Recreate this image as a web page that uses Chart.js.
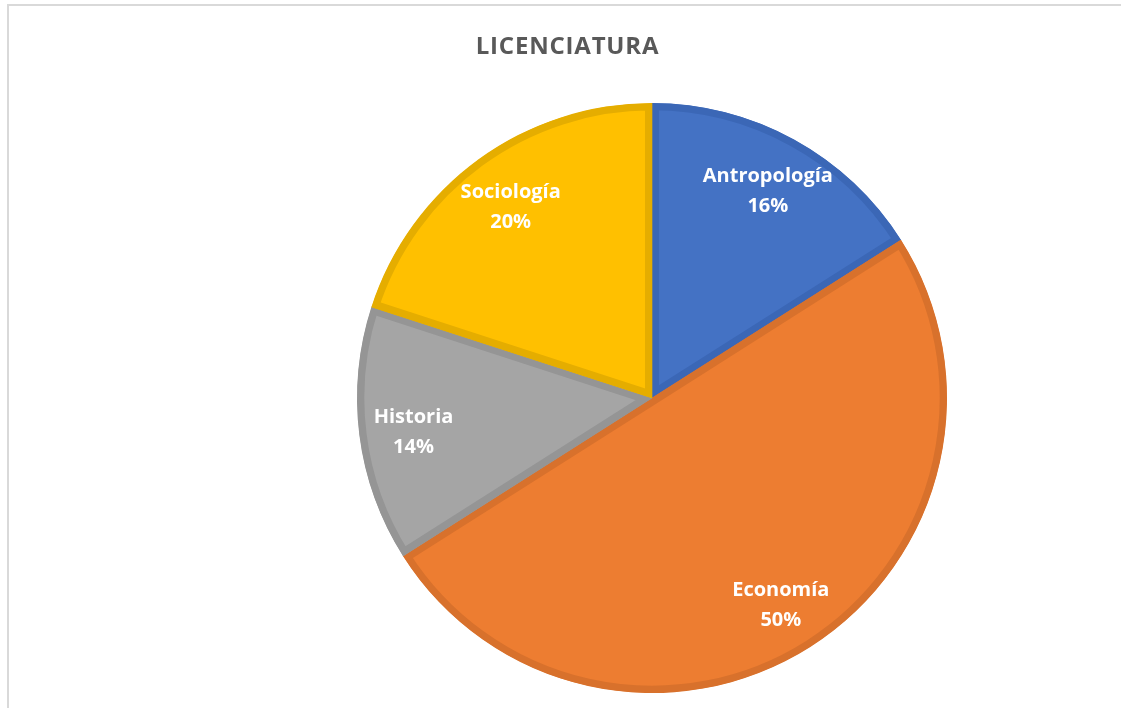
<!DOCTYPE html>
<html>
<head>
<meta charset="utf-8">
<script src="https://cdn.jsdelivr.net/npm/chart.js@4.4.0/dist/chart.umd.min.js"></script>
<style>
    html, body { margin: 0; padding: 0; background: #fff; overflow: hidden; }
    #wrap { position: relative; width: 1121px; height: 708px; overflow: hidden; }
    .line { position: absolute; background: #d9d9d9; }
    #line-top { left: 7px; top: 4px; width: 1114px; height: 2px; }
    #line-left { left: 7px; top: 4px; width: 2px; height: 704px; }
    #title {
        position: absolute; left: 0; top: 28px; width: 1121px; padding-left: 14px; box-sizing: border-box;
        text-align: center; font: bold 24px "Open Sans", sans-serif; color: #595959; letter-spacing: 0.8px;
    }
    canvas { position: absolute; left: 0; top: 0; }
</style>
</head>
<body>
<div id="wrap">
    <div class="line" id="line-top"></div>
    <div class="line" id="line-left"></div>
    <canvas id="pie-chart" width="1121" height="708"></canvas>
    <div id="title">LICENCIATURA</div>
</div>
<script>
// Данные диаграммы
const categories = ['Antropología', 'Economía', 'Historia', 'Sociología'];
const percents = [16, 50, 14, 20];
const fillColors = ['#4472c4', '#ed7d31', '#a5a5a5', '#ffc000'];
const edgeColors = ['#3b67b6', '#d8712c', '#959595', '#e5ad00'];

// Подписи внутри секторов
const sliceLabels = {
    id: 'sliceLabels',
    afterDatasetsDraw(chart) {
        const ctx = chart.ctx;
        const meta = chart.getDatasetMeta(0);
        ctx.save();
        ctx.fillStyle = '#ffffff';
        ctx.font = 'bold 20px "Open Sans", sans-serif';
        ctx.textAlign = 'center';
        ctx.textBaseline = 'middle';
        meta.data.forEach((arc, i) => {
            const p = arc.getProps(['x', 'y', 'startAngle', 'endAngle', 'outerRadius']);
            const mid = (p.startAngle + p.endAngle) / 2;
            const r = p.outerRadius * 0.815;
            const x = p.x + Math.cos(mid) * r;
            const y = p.y + Math.sin(mid) * r + 4;
            ctx.fillText(categories[i], x, y - 15);
            ctx.fillText(percents[i] + '%', x, y + 15);
        });
        ctx.restore();
    }
};

new Chart(document.getElementById('pie-chart').getContext('2d'), {
    type: 'pie',
    data: {
        labels: categories,
        datasets: [{
            data: percents,
            backgroundColor: fillColors,
            borderColor: edgeColors,
            borderWidth: 7,
            borderAlign: 'inner',
            borderJoinStyle: 'miter',
            hoverOffset: 0
        }]
    },
    options: {
        responsive: false,
        animation: false,
        events: [],
        layout: { padding: { left: 357, right: 174, top: 103, bottom: 15 } },
        plugins: {
            legend: { display: false },
            title: { display: false },
            tooltip: { enabled: false }
        }
    },
    plugins: [sliceLabels]
});
</script>
</body>
</html>
